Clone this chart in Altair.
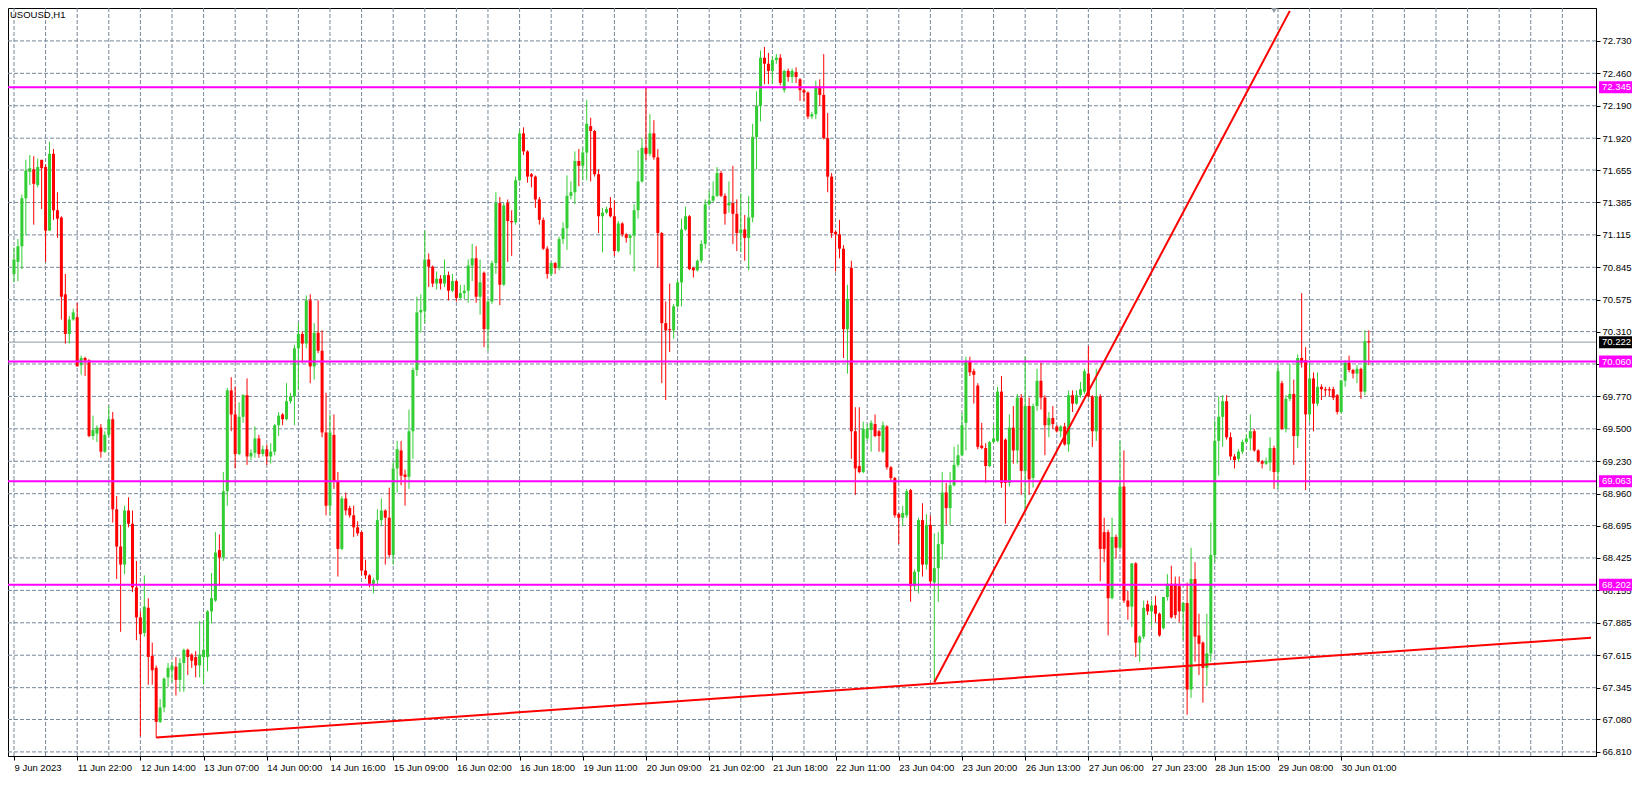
import altair as alt
import pandas as pd

symbol_title = "USOUSD,H1"

open_ = [
    70.79, 70.89, 71.02, 71.42, 71.64, 71.66, 71.53, 71.74, 71.68, 71.15,
    71.79, 71.32, 71.26, 70.62, 70.29, 70.41, 70.43, 70.03, 70.09, 70.07,
    69.44, 69.46, 69.51, 69.31, 69.45, 69.58, 68.83, 68.52, 68.37, 68.82,
    68.71, 68.18, 67.93, 67.80, 68.01, 67.61, 67.51, 67.06, 67.18, 67.43,
    67.49, 67.52, 67.41, 67.55, 67.66, 67.62, 67.60, 67.53, 67.60, 67.60,
    67.98, 68.07, 68.49, 68.43, 68.98, 69.82, 69.62, 69.29, 69.60, 69.78,
    69.27, 69.30, 69.42, 69.29, 69.33, 69.27, 69.31, 69.53, 69.62, 69.58,
    69.73, 69.77, 70.17, 70.29, 70.21, 70.57, 70.02, 70.30, 70.15, 69.47,
    68.86, 69.45, 69.06, 68.50, 68.92, 68.84, 68.78, 68.68, 68.64, 68.32,
    68.28, 68.21, 68.24, 68.74, 68.82, 68.76, 68.45, 69.17, 69.32, 69.12,
    69.10, 69.48, 69.99, 70.47, 70.48, 70.91, 70.85, 70.71, 70.75, 70.71,
    70.78, 70.65, 70.73, 70.59, 70.63, 70.65, 70.86, 70.92, 70.60, 70.80,
    70.33, 70.56, 70.88, 71.38, 70.70, 71.38, 71.23, 71.22, 71.57, 71.96,
    71.81, 71.62, 71.60, 71.41, 71.24, 71.00, 70.79, 70.88, 70.84, 71.08,
    71.17, 71.44, 71.47, 71.73, 71.69, 71.80, 72.02, 71.98, 71.62, 71.27,
    71.30, 71.34, 71.27, 70.98, 71.21, 71.12, 71.09, 71.11, 71.32, 71.56,
    71.84, 71.79, 71.96, 71.76, 71.13, 70.38, 70.33, 70.32, 70.52, 70.72,
    71.16, 71.27, 70.84, 70.82, 70.90, 71.04, 71.37, 71.40, 71.44, 71.63,
    71.44, 71.36, 71.38, 71.29, 71.13, 71.16, 71.09, 71.26, 71.93, 72.19,
    72.59, 72.54, 72.48, 72.57, 72.59, 72.32, 72.48, 72.43, 72.47, 72.41,
    72.32, 72.30, 72.10, 72.12, 72.35, 72.28, 71.92, 71.60, 71.14, 71.12,
    71.00, 70.33, 70.84, 69.48, 69.19, 69.14, 69.42, 69.49, 69.54, 69.48,
    69.31, 69.52, 69.18, 69.09, 68.79, 68.76, 68.78, 68.99, 68.19, 68.31,
    68.74, 68.37, 68.70, 68.22, 68.34, 68.54, 68.97, 68.84, 69.03, 69.20,
    69.28, 69.55, 70.06, 69.98, 69.86, 69.36, 69.34, 69.19, 69.39, 69.40,
    69.81, 69.41, 69.05, 69.51, 69.32, 69.76, 69.15, 69.69, 69.09, 69.69,
    69.90, 69.76, 69.53, 69.59, 69.52, 69.48, 69.52, 69.37, 69.78, 69.71,
    69.78, 69.81, 69.96, 69.77, 69.48, 69.77, 68.64, 68.64, 68.09, 68.60,
    68.51, 69.02, 68.07, 68.02, 68.38, 67.72, 67.77, 68.04, 67.98, 68.03,
    67.96, 67.84, 68.10, 68.21, 68.21, 68.19, 67.98, 68.05, 67.33, 68.25,
    67.78, 67.72, 67.51, 67.63, 68.45, 69.40, 69.60, 69.73, 69.43, 69.27,
    69.25, 69.31, 69.39, 69.42, 69.48, 69.32, 69.23, 69.21, 69.22, 69.34,
    69.14, 69.88, 69.50, 69.75, 69.79, 69.44, 70.09, 70.07, 69.62, 69.92,
    69.71, 69.85, 69.83, 69.83, 69.83, 69.78, 69.64, 69.90, 70.05, 69.99,
    69.96, 70.00, 69.81, 70.23,
]

high = [
    71.01, 71.08, 71.45, 71.74, 71.78, 71.77, 71.75, 71.74, 71.70, 71.89,
    71.83, 71.47, 71.27, 70.79, 70.44, 70.50, 70.55, 70.11, 70.10, 70.08,
    69.61, 69.53, 69.54, 69.48, 69.69, 69.64, 68.94, 68.70, 68.86, 68.93,
    68.82, 68.40, 67.98, 68.28, 68.09, 67.72, 67.53, 67.25, 67.43, 67.55,
    67.56, 67.60, 67.59, 67.67, 67.67, 67.63, 67.65, 67.90, 67.90, 67.99,
    68.30, 68.64, 68.62, 69.14, 69.84, 69.93, 69.85, 69.72, 69.79, 69.92,
    69.33, 69.52, 69.45, 69.36, 69.37, 69.38, 69.54, 69.64, 69.63, 69.88,
    69.80, 70.20, 70.38, 70.31, 70.61, 70.62, 70.38, 70.57, 70.32, 69.80,
    69.62, 69.62, 69.14, 68.94, 68.97, 68.86, 68.86, 68.73, 68.65, 68.41,
    68.29, 68.26, 68.83, 68.92, 68.83, 69.01, 69.23, 69.40, 69.40, 69.16,
    69.66, 70.01, 70.60, 70.62, 71.15, 70.96, 70.86, 70.81, 70.78, 70.91,
    70.81, 70.79, 70.74, 70.70, 70.70, 70.91, 71.04, 71.02, 70.91, 70.81,
    70.58, 70.90, 71.47, 71.43, 71.38, 71.41, 71.32, 71.60, 71.99, 72.01,
    71.82, 71.63, 71.61, 71.43, 71.26, 71.02, 70.89, 70.89, 71.10, 71.22,
    71.61, 71.56, 71.81, 71.83, 71.84, 72.24, 72.09, 71.99, 71.66, 71.34,
    71.35, 71.43, 71.40, 71.23, 71.22, 71.13, 71.12, 71.37, 71.82, 71.92,
    72.34, 72.12, 72.07, 71.83, 71.14, 70.56, 70.71, 70.54, 70.74, 71.25,
    71.35, 71.28, 70.85, 70.91, 71.07, 71.41, 71.48, 71.56, 71.68, 71.65,
    71.46, 71.56, 71.69, 71.41, 71.46, 71.28, 71.44, 72.04, 72.31, 72.65,
    72.68, 72.63, 72.60, 72.62, 72.62, 72.49, 72.50, 72.50, 72.51, 72.42,
    72.33, 72.31, 72.14, 72.40, 72.41, 72.62, 72.13, 71.63, 71.15, 71.24,
    71.03, 70.70, 70.90, 69.68, 69.68, 69.56, 69.54, 69.57, 69.62, 69.49,
    69.56, 69.53, 69.19, 69.10, 68.80, 68.86, 69.00, 69.00, 68.33, 68.76,
    68.88, 68.79, 68.78, 68.63, 68.64, 69.14, 69.05, 69.14, 69.35, 69.37,
    69.63, 70.10, 70.10, 70.00, 69.88, 69.55, 69.38, 69.40, 69.53, 69.85,
    69.94, 69.42, 69.62, 69.69, 69.79, 69.79, 70.10, 69.76, 69.71, 70.00,
    70.05, 69.78, 69.64, 69.69, 69.53, 69.53, 69.55, 69.82, 69.82, 69.82,
    69.89, 70.00, 70.19, 69.78, 70.00, 69.79, 68.76, 68.66, 68.76, 68.62,
    69.40, 69.32, 68.15, 68.38, 68.39, 67.78, 68.07, 68.07, 68.07, 68.11,
    67.97, 68.10, 68.29, 68.36, 68.27, 68.27, 68.06, 68.22, 68.51, 68.39,
    67.96, 67.73, 67.96, 68.72, 69.57, 69.77, 69.78, 69.78, 69.47, 69.29,
    69.33, 69.41, 69.45, 69.62, 69.50, 69.33, 69.24, 69.26, 69.43, 69.36,
    70.03, 69.90, 69.78, 70.04, 69.91, 70.12, 70.63, 70.18, 70.04, 69.97,
    69.97, 69.87, 69.85, 69.85, 69.85, 69.79, 69.91, 70.07, 70.11, 70.00,
    70.03, 70.01, 70.32, 70.32,
]

low = [
    70.72, 70.73, 70.83, 71.11, 71.53, 71.20, 71.51, 71.33, 70.89, 71.15,
    71.24, 71.09, 70.41, 70.21, 70.21, 70.40, 70.02, 69.95, 69.94, 69.43,
    69.41, 69.39, 69.26, 69.30, 69.43, 68.72, 68.25, 67.81, 68.29, 68.68,
    68.14, 67.74, 66.94, 67.77, 67.37, 67.37, 66.93, 67.05, 67.14, 67.35,
    67.39, 67.28, 67.31, 67.31, 67.45, 67.51, 67.43, 67.43, 67.37, 67.48,
    67.88, 68.06, 68.19, 68.40, 68.86, 69.48, 69.17, 69.28, 69.55, 69.20,
    69.24, 69.26, 69.26, 69.27, 69.20, 69.21, 69.28, 69.44, 69.53, 69.57,
    69.71, 69.53, 69.83, 70.05, 70.17, 69.88, 69.91, 70.13, 69.43, 68.78,
    68.78, 69.00, 68.27, 68.49, 68.78, 68.76, 68.60, 68.61, 68.28, 68.25,
    68.18, 68.13, 68.19, 68.69, 68.37, 68.43, 68.37, 68.97, 69.03, 68.86,
    69.00, 69.25, 69.94, 70.30, 70.38, 70.68, 70.68, 70.66, 70.66, 70.68,
    70.57, 70.64, 70.56, 70.58, 70.58, 70.55, 70.73, 70.55, 70.45, 70.18,
    70.15, 70.54, 70.79, 70.53, 70.69, 70.89, 70.94, 71.20, 71.56, 71.78,
    71.55, 71.51, 71.34, 71.20, 70.99, 70.75, 70.77, 70.79, 70.82, 71.04,
    70.99, 71.41, 71.37, 71.52, 71.57, 71.57, 71.56, 71.60, 71.13, 70.97,
    71.29, 71.26, 70.94, 70.97, 71.10, 71.05, 70.95, 70.81, 71.25, 71.55,
    71.74, 71.77, 71.74, 70.84, 69.88, 69.74, 70.14, 70.25, 70.51, 70.52,
    71.15, 70.82, 70.76, 70.81, 70.88, 71.00, 71.36, 71.39, 71.43, 71.43,
    71.20, 71.30, 71.04, 70.98, 70.97, 70.90, 70.82, 71.22, 71.66, 72.06,
    72.37, 72.37, 72.37, 72.54, 72.36, 72.30, 72.39, 72.38, 72.38, 72.23,
    72.23, 72.08, 72.08, 72.08, 72.19, 71.91, 71.47, 71.09, 70.81, 70.92,
    70.09, 69.96, 69.25, 68.95, 69.13, 69.13, 69.40, 69.31, 69.43, 69.31,
    69.30, 69.16, 69.06, 68.76, 68.54, 68.69, 68.76, 68.06, 68.15, 68.13,
    68.27, 68.33, 68.19, 67.39, 68.06, 68.41, 68.70, 68.70, 69.02, 69.18,
    69.27, 69.32, 69.94, 69.71, 69.33, 69.33, 69.05, 69.18, 69.38, 69.39,
    69.01, 68.71, 69.02, 69.21, 69.21, 68.95, 68.82, 68.95, 69.01, 69.65,
    69.66, 69.28, 69.43, 69.50, 69.47, 69.43, 69.36, 69.31, 69.64, 69.70,
    69.76, 69.79, 69.76, 69.35, 69.40, 68.23, 68.39, 67.78, 68.08, 68.42,
    68.50, 68.05, 67.91, 67.85, 67.60, 67.56, 67.75, 67.95, 67.86, 67.89,
    67.77, 67.83, 68.07, 67.92, 67.92, 67.89, 67.74, 67.12, 67.26, 67.56,
    67.45, 67.22, 67.36, 67.56, 68.39, 69.11, 69.35, 69.41, 69.24, 69.17,
    69.23, 69.29, 69.38, 69.32, 69.31, 69.22, 69.17, 69.20, 69.15, 69.00,
    69.00, 69.49, 69.47, 69.73, 69.20, 69.34, 70.01, 68.99, 69.56, 69.48,
    69.69, 69.74, 69.77, 69.77, 69.74, 69.62, 69.63, 69.85, 69.97, 69.92,
    69.88, 69.75, 69.78, 70.03,
]

close = [
    70.91, 71.02, 71.42, 71.65, 71.67, 71.54, 71.68, 71.67, 71.15, 71.79,
    71.32, 71.25, 70.60, 70.29, 70.41, 70.47, 70.02, 70.09, 70.07, 69.44,
    69.49, 69.51, 69.31, 69.45, 69.58, 68.83, 68.52, 68.37, 68.82, 68.71,
    68.18, 67.93, 67.79, 68.02, 67.60, 67.49, 67.06, 67.18, 67.42, 67.51,
    67.53, 67.41, 67.55, 67.66, 67.60, 67.57, 67.53, 67.62, 67.66, 67.98,
    68.09, 68.47, 68.43, 68.98, 69.82, 69.62, 69.29, 69.60, 69.78, 69.27,
    69.30, 69.42, 69.29, 69.33, 69.27, 69.31, 69.53, 69.61, 69.58, 69.73,
    69.77, 70.17, 70.29, 70.21, 70.57, 70.02, 70.30, 70.15, 69.47, 68.86,
    69.47, 69.06, 68.50, 68.92, 68.82, 68.78, 68.68, 68.63, 68.32, 68.28,
    68.21, 68.24, 68.74, 68.82, 68.76, 68.45, 69.17, 69.33, 69.11, 69.10,
    69.48, 69.99, 70.47, 70.49, 70.91, 70.85, 70.71, 70.75, 70.71, 70.78,
    70.65, 70.73, 70.59, 70.63, 70.65, 70.86, 70.92, 70.60, 70.72, 70.33,
    70.56, 70.88, 71.38, 70.70, 71.36, 71.23, 71.22, 71.57, 71.96, 71.81,
    71.60, 71.60, 71.41, 71.24, 71.00, 70.79, 70.88, 70.84, 71.08, 71.17,
    71.44, 71.47, 71.73, 71.69, 71.80, 72.04, 71.98, 71.62, 71.27, 71.30,
    71.33, 71.27, 70.98, 71.21, 71.12, 71.09, 71.11, 71.32, 71.56, 71.84,
    71.79, 71.96, 71.76, 71.13, 70.38, 70.32, 70.32, 70.52, 70.72, 71.16,
    71.27, 70.83, 70.82, 70.90, 71.04, 71.37, 71.40, 71.44, 71.63, 71.44,
    71.29, 71.38, 71.29, 71.13, 71.16, 71.09, 71.26, 71.93, 72.19, 72.59,
    72.54, 72.48, 72.57, 72.59, 72.38, 72.48, 72.43, 72.48, 72.43, 72.32,
    72.30, 72.10, 72.12, 72.35, 72.28, 71.92, 71.60, 71.13, 71.12, 71.00,
    70.33, 70.58, 69.48, 69.17, 69.14, 69.50, 69.50, 69.55, 69.44, 69.44,
    69.53, 69.18, 69.09, 68.78, 68.76, 68.80, 68.98, 68.19, 68.31, 68.74,
    68.37, 68.70, 68.23, 68.34, 68.54, 68.97, 68.84, 69.03, 69.20, 69.28,
    69.53, 70.06, 69.97, 69.95, 69.35, 69.34, 69.19, 69.39, 69.42, 69.81,
    69.05, 69.05, 69.51, 69.32, 69.76, 69.15, 69.69, 69.08, 69.69, 69.90,
    69.76, 69.53, 69.59, 69.54, 69.48, 69.52, 69.37, 69.78, 69.71, 69.78,
    69.83, 69.98, 69.77, 69.48, 69.77, 68.50, 68.50, 68.09, 68.60, 68.51,
    69.02, 68.07, 68.02, 68.38, 67.72, 67.77, 68.01, 67.98, 68.03, 67.96,
    67.78, 68.10, 68.21, 67.93, 67.95, 67.98, 68.05, 67.33, 68.25, 67.77,
    67.71, 67.51, 67.63, 68.45, 69.40, 69.60, 69.73, 69.43, 69.27, 69.24,
    69.31, 69.39, 69.42, 69.48, 69.32, 69.23, 69.21, 69.23, 69.34, 69.14,
    69.98, 69.50, 69.75, 69.79, 69.44, 70.09, 70.05, 69.62, 69.92, 69.71,
    69.85, 69.83, 69.82, 69.82, 69.76, 69.64, 69.90, 70.05, 69.99, 69.96,
    70.00, 69.81, 70.23, 70.22,
]

date_labels = [
    "9 Jun 2023", "11 Jun 22:00", "12 Jun 14:00", "13 Jun 07:00", "14 Jun 00:00",
    "14 Jun 16:00", "15 Jun 09:00", "16 Jun 02:00", "16 Jun 18:00", "19 Jun 11:00",
    "20 Jun 09:00", "21 Jun 02:00", "21 Jun 18:00", "22 Jun 11:00", "23 Jun 04:00",
    "23 Jun 20:00", "26 Jun 13:00", "27 Jun 06:00", "27 Jun 23:00", "28 Jun 15:00",
    "29 Jun 08:00", "30 Jun 01:00",
]
label_step = 16          # bars between time labels
grid_step = 8            # bars between vertical grid lines

price_ticks = [
    72.730, 72.460, 72.190, 71.920, 71.655, 71.385, 71.115, 70.845, 70.575,
    70.310, 70.040, 69.770, 69.500, 69.230, 68.960, 68.695, 68.425, 68.155,
    67.885, 67.615, 67.345, 67.080, 66.810,
]

level_prices = [72.345, 70.060, 69.063, 68.202]
current_price = 70.222

lower_line_bar = [36, 399.25]
lower_line_price = [66.93, 67.76]
steep_line_bar = [233, 323]
steep_line_price = [67.39, 72.98]
marker_bar = 319

# ---------------------------------------------------------------
W, H = 1588, 748
x_dom = [-0.25, 399.25]
y_dom = [66.776, 73.004]
FONT = "Liberation Sans"
FS = 9.5
GRID = "#778899"

xs = alt.Scale(domain=x_dom, nice=False, zero=False)
ys = alt.Scale(domain=y_dom, nice=False, zero=False)

label_array = "[" + ",".join("'" + s + "'" for s in date_labels) + "]"
x_axis = alt.Axis(
    values=[k * label_step for k in range(len(date_labels))],
    labelExpr=f"{label_array}[round(datum.value/{label_step})]",
    labelAlign="left", labelPadding=2, tickSize=4, labelFont=FONT, labelFontSize=FS,
    labelColor="black", tickColor="black", domainColor="black", grid=False, title=None,
    labelOverlap=False, labelFlush=False,
)
y_axis = alt.Axis(
    orient="right", values=price_ticks, format=".3f", tickSize=4, labelPadding=2,
    labelFont=FONT, labelFontSize=FS, labelColor="black", tickColor="black",
    domainColor="black", grid=False, title=None, labelOverlap=False, labelFlush=False,
)


def X(field):
    return alt.X(field, scale=xs, axis=x_axis)


def Y(field):
    return alt.Y(field, scale=ys, axis=y_axis)


n = len(close)
df = pd.DataFrame({"i": list(range(n)), "o": open_, "h": high, "l": low, "c": close})
df["dir"] = ["up" if c >= o else "down" for o, c in zip(open_, close)]
color = alt.Color("dir:N", scale=alt.Scale(domain=["up", "down"], range=["#32CD32", "#FF0000"]), legend=None)

n_grid = int(x_dom[1] // grid_step) + 1
vgrid = alt.Chart(pd.DataFrame({"g": [k * grid_step for k in range(n_grid)]})).mark_rule(
    color=GRID, strokeDash=[4, 2], strokeWidth=1
).encode(x=X("g:Q"))

hgrid = alt.Chart(pd.DataFrame({"p": price_ticks})).mark_rule(
    color=GRID, strokeDash=[4, 2], strokeWidth=1
).encode(y=Y("p:Q"))

wicks = alt.Chart(df).mark_rule(strokeWidth=1).encode(
    x=X("i:Q"), y=Y("l:Q"), y2="h:Q", color=color,
)
bodies = alt.Chart(df).mark_bar(size=3).encode(
    x=X("i:Q"), y=Y("o:Q"), y2="c:Q", color=color,
)

cur_line = alt.Chart(pd.DataFrame({"p": [current_price]})).mark_rule(
    color="#8f98a3", strokeWidth=1
).encode(y=Y("p:Q"))

levels = alt.Chart(pd.DataFrame({"p": level_prices})).mark_rule(
    color="#FF00FF", strokeWidth=2
).encode(y=Y("p:Q"))

tl = pd.DataFrame({
    "bar": lower_line_bar + steep_line_bar,
    "price": lower_line_price + steep_line_price,
    "line": ["lower", "lower", "steep", "steep"],
})
trend = alt.Chart(tl).mark_line(color="#FF0000", strokeWidth=2, clip=True).encode(
    x=X("bar:Q"), y=Y("price:Q"), detail="line:N",
)

lab = pd.DataFrame({
    "p": level_prices + [current_price],
    "t": [f"{v:.3f}" for v in level_prices + [current_price]],
    "fill": ["#FF00FF"] * len(level_prices) + ["#000000"],
})
boxes = alt.Chart(lab).mark_rect(yOffset=-6, y2Offset=6).encode(
    x=alt.value(W + 3), x2=alt.value(W + 36),
    y=Y("p:Q"), y2="p:Q",
    color=alt.Color("fill:N", scale=None),
)
box_text = alt.Chart(lab).mark_text(
    align="left", baseline="middle", font=FONT, fontSize=FS, color="white"
).encode(x=alt.value(W + 6), y=Y("p:Q"), text="t:N")

title_text = alt.Chart(pd.DataFrame({"t": [symbol_title]})).mark_text(
    align="left", baseline="middle", font=FONT, fontSize=FS, color="black"
).encode(x=alt.value(2), y=alt.value(7), text="t:N")

marker = alt.Chart(pd.DataFrame({"b": [marker_bar]})).mark_point(
    shape="triangle-down", filled=True, size=45, color="#8f98a3", opacity=1
).encode(x=X("b:Q"), y=alt.value(2))

chart = alt.layer(
    vgrid, hgrid, cur_line, wicks, bodies, levels, trend, boxes, box_text, title_text, marker
).properties(
    width=W, height=H,
    padding={"left": 0, "top": 0, "right": 36, "bottom": 17},
    autosize=alt.AutoSizeParams(type="none"),
    background="white",
).configure_view(stroke="black", strokeWidth=1)

chart.save("out.html", embed_options={"renderer": "svg", "actions": False})
